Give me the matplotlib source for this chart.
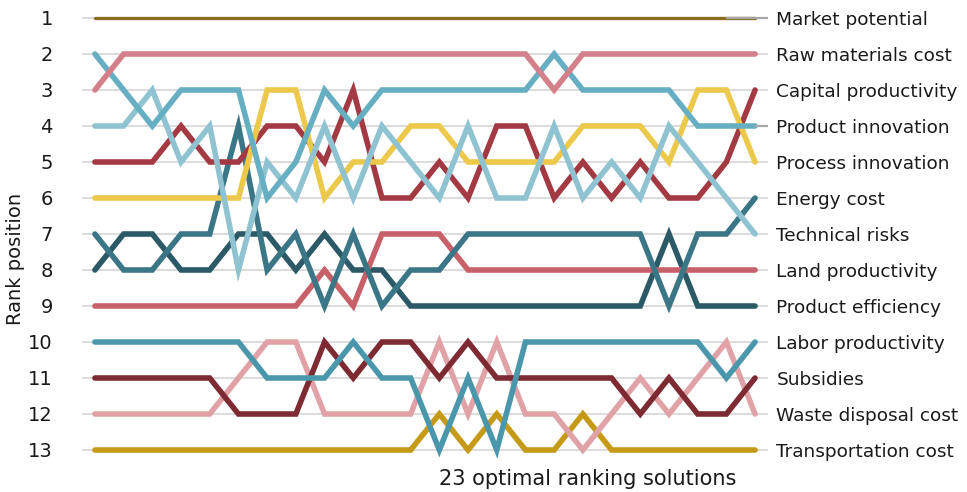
import matplotlib
matplotlib.use("Agg")
import matplotlib.pyplot as plt
import numpy as np

plt.rcParams['font.family'] = ['DejaVu Sans']

factors = ["Market potential", "Raw materials cost", "Capital productivity",
           "Product innovation", "Process innovation", "Energy cost",
           "Technical risks", "Land productivity", "Product efficiency",
           "Labor productivity", "Subsidies", "Waste disposal cost",
           "Transportation cost"]

market_potential     = [1]*24
raw_materials_cost   = [3,2,2,2,2,2,2,2,2,2,2,2,2,2,2,2,3,2,2,2,2,2,2,2]
capital_productivity = [2,3,4,3,3,3,6,5,3,4,3,3,3,3,3,3,2,3,3,3,3,4,4,4]
product_innovation   = [4,4,3,5,4,8,5,6,4,6,4,5,6,4,6,6,4,6,5,6,4,5,6,7]
process_innovation   = [6,6,6,6,6,6,3,3,6,5,5,4,4,5,5,5,5,4,4,4,5,3,3,5]
energy_cost          = [5,5,5,4,5,5,4,4,5,3,6,6,5,6,4,4,6,5,6,5,6,6,5,3]
technical_risks      = [7,8,8,7,7,4,8,7,9,7,9,8,8,7,7,7,7,7,7,7,9,7,7,6]
land_productivity    = [9,9,9,9,9,9,9,9,8,9,7,7,7,8,8,8,8,8,8,8,8,8,8,8]
product_efficiency   = [8,7,7,8,8,7,7,8,7,8,8,9,9,9,9,9,9,9,9,9,7,9,9,9]
labor_productivity   = [10,10,10,10,10,10,11,11,11,10,11,11,13,11,13,10,10,10,10,10,10,10,11,10]
subsidies            = [11,11,11,11,11,12,12,12,10,11,10,10,11,10,11,11,11,11,11,12,11,12,12,11]
waste_disposal_cost  = [12,12,12,12,12,11,10,10,12,12,12,12,10,12,10,12,12,13,12,11,12,11,10,12]
transportation_cost  = [13,13,13,13,13,13,13,13,13,13,13,13,12,13,12,13,13,12,13,13,13,13,13,13]

series = [market_potential, raw_materials_cost, capital_productivity,
          product_innovation, process_innovation, energy_cost, technical_risks,
          land_productivity, product_efficiency, labor_productivity, subsidies,
          waste_disposal_cost, transportation_cost]

colors = ["#8c6d1f", "#d4808a", "#66aec2", "#8fc3d2", "#ecc94b", "#a33a43",
          "#3a7686", "#c8606a", "#2b5a66", "#4a97ac", "#7e2a32", "#e1a2a7",
          "#c49a17"]
widths = [2.4] + [4.0]*12

fig = plt.figure(figsize=(9.67, 4.92), dpi=100)
ax = fig.add_axes([82/967, (492-468)/492, (768-82)/967, 468/492])

x = np.arange(len(market_potential))
ax.set_xlim(-0.45, 23.45)
ax.set_ylim(13.5, 0.5)

for r in range(1, 14):
    ax.axhline(r, color="#d9d9d9", lw=1.3, zorder=0)

for i in reversed(range(len(series))):
    ax.plot(x, series[i], color=colors[i], lw=widths[i],
            solid_capstyle='round', solid_joinstyle='miter', zorder=2 + (13 - i) * 0.01)

# short grey marks at the right end (ranks 1 and 4)
ax.plot([x[-2], 23.45], [1, 1], color="#a6a6a6", lw=1.6, zorder=3, solid_capstyle='butt')
ax.plot([x[-1], 23.45], [4, 4], color="#a6a6a6", lw=1.6, zorder=3, solid_capstyle='butt')

for s in ax.spines.values():
    s.set_visible(False)
ax.set_xticks([])
ax.set_yticks(range(1, 14))
ax.set_yticklabels([str(r) for r in range(1, 14)], fontsize=14, color="#1a1a1a")
ax.tick_params(axis='y', length=0, pad=21)
ax.set_ylabel("Rank position", fontsize=14, color="#1a1a1a")
ax.yaxis.set_label_coords((25 - 82) / 686, 0.447)

ax2 = ax.twinx()
ax2.set_position(ax.get_position())
ax2.set_ylim(13.5, 0.5)
ax2.set_yticks(range(1, 14))
ax2.set_yticklabels(factors, fontsize=13.3, color="#1a1a1a")
ax2.tick_params(axis='y', length=0, pad=6)
for s in ax2.spines.values():
    s.set_visible(False)

ax.text((588 - 82) / 686, -0.002, "23 optimal ranking solutions", transform=ax.transAxes,
        ha='center', va='top', fontsize=15, color="#1a1a1a")

fig.savefig("out.png", dpi=100)
